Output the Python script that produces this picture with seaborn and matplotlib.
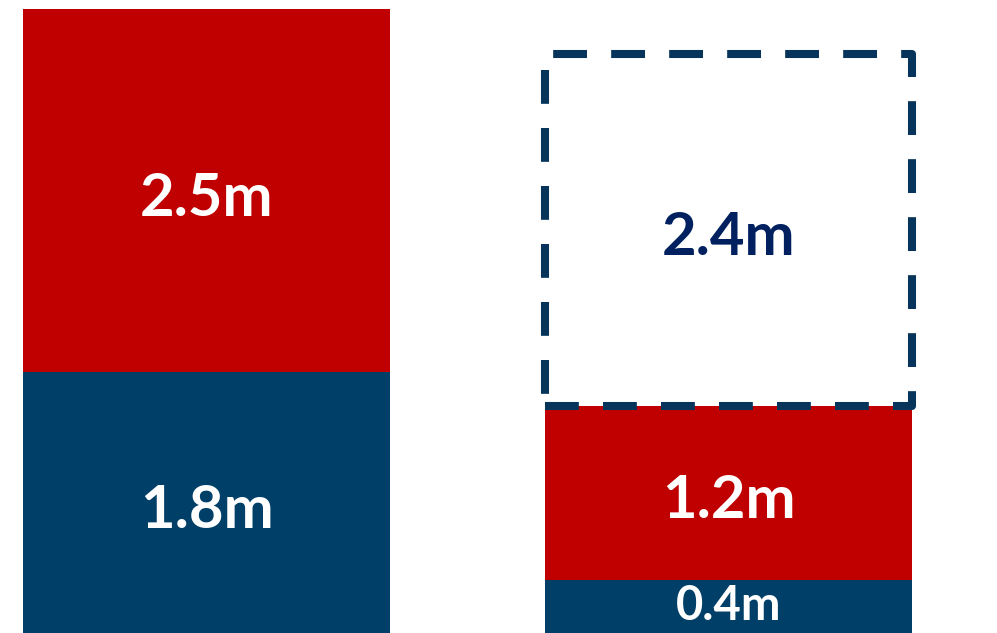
import matplotlib.pyplot as plt
import seaborn as sns
import pandas as pd

# two stacked columns, values in metres
categories = ["current", "target"]
blue_vals = [1.8, 0.37]
red_vals = [2.5, 1.2]
gap_vals = [0.0, 2.42]   # dashed "still to go" block, only on the right column

BLUE = "#004068"
RED = "#C00000"
NAVY = "#06345A"
TEXT_NAVY = "#002060"

sns.set_theme(style="white")
plt.rcParams["font.family"] = ["Lato", "DejaVu Sans"]

df = pd.DataFrame({"cat": categories, "blue": blue_vals, "red": red_vals, "gap": gap_vals})
df["top"] = df["blue"] + df["red"]

fig = plt.figure(figsize=(9.97, 6.33), dpi=100)
ax = fig.add_axes([0, 0, 1, 1])

# red goes first at full stack height, blue overlaid from zero
sns.barplot(data=df, x="cat", y="top", color=RED, saturation=1, width=0.703,
            edgecolor="none", ax=ax, zorder=2)
sns.barplot(data=df, x="cat", y="blue", color=BLUE, saturation=1, width=0.703,
            edgecolor="none", ax=ax, zorder=3)

# dashed outline block sitting on top of the right column
has_gap = df[df["gap"] > 0]
idx = [categories.index(c) for c in has_gap["cat"]]
ax.bar(idx, has_gap["gap"], bottom=has_gap["top"], width=0.703, fill=False,
       edgecolor=NAVY, linewidth=5.8, linestyle=(0, (4.2, 3.0)),
       joinstyle="round", zorder=4)

lab = dict(ha="center", fontweight="bold", zorder=5)
for i, row in df.iterrows():
    if row["blue"] < 0.5:
        # thin segment: smaller label, kept inside the picture
        ax.text(i, row["blue"] / 2 + 0.005, f"{row['blue']:.1f}m", va="center",
                color="white", fontsize=34, **lab)
    else:
        ax.text(i, row["blue"] / 2 - 0.02, f"{row['blue']:.1f}m", va="center_baseline",
                color="white", fontsize=43, **lab)
    ax.text(i, row["blue"] + row["red"] / 2 - 0.02, f"{row['red']:.1f}m",
            va="center_baseline", color="white", fontsize=43, **lab)
    if row["gap"] > 0:
        ax.text(i, row["top"] + row["gap"] / 2 - 0.02, f"{row['gap']:.1f}m",
                va="center_baseline", color=TEXT_NAVY, fontsize=43, **lab)

ax.set_xlim(-0.396, 1.514)
ax.set_ylim(0.007, 4.363)
ax.axis("off")

fig.savefig("out.png", dpi=100, facecolor="white")
